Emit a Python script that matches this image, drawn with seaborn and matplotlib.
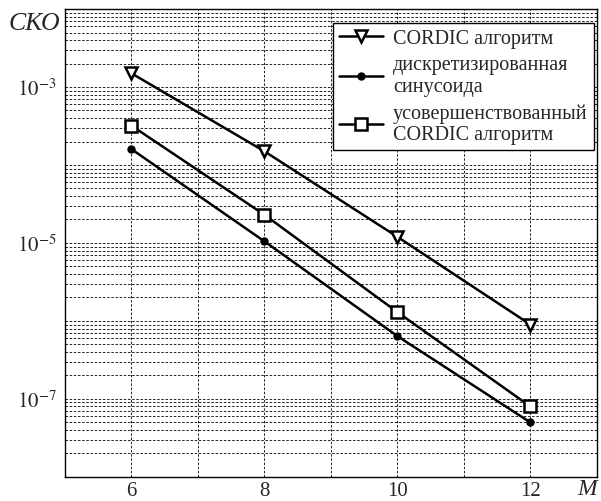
import matplotlib
matplotlib.use("Agg")
import matplotlib.pyplot as plt
import matplotlib.ticker as mticker
import seaborn as sns
import numpy as np

# data
m_values = [6, 8, 10, 12]
cordic = [1.5e-3, 1.5e-4, 1.2e-5, 9.0e-7]
sampled_sine = [1.6e-4, 1.05e-5, 6.4e-7, 5.0e-8]
improved_cordic = [3.2e-4, 2.3e-5, 1.3e-6, 8.0e-8]

series_labels = ["CORDIC алгоритм",
                 "дискретизированная\nсинусоида",
                 "усовершенствованный\nCORDIC алгоритм"]

sns.set_style("white")
plt.rcParams['font.family'] = ['Liberation Serif', 'DejaVu Serif']
plt.rcParams['mathtext.fontset'] = 'stix'

fig = plt.figure(figsize=(6.01, 5.02), dpi=100)
ax = fig.add_axes([0.108, 0.048, 0.885, 0.932])

styles = [
    dict(marker='v', markersize=9, markerfacecolor='white', markeredgewidth=1.8),
    dict(marker='o', markersize=5, markerfacecolor='black', markeredgewidth=1),
    dict(marker='s', markersize=8, markerfacecolor='white', markeredgewidth=1.8),
]
for vals, lab, st in zip([cordic, sampled_sine, improved_cordic], series_labels, styles):
    sns.lineplot(x=m_values, y=vals, ax=ax, color='black', linewidth=1.8,
                 markeredgecolor='black', label=lab, **st)

ax.set_yscale('log')
ax.set_xlim(5, 13)
ax.set_ylim(1e-8, 1e-2)

# x ticks every 1, labels only on even values
ax.set_xticks(np.arange(5, 14, 1))
ax.set_xticklabels(['' if t % 2 else str(t) for t in range(5, 14)])

# y decades, label every other one
ax.yaxis.set_major_locator(mticker.LogLocator(base=10, numticks=20))
ax.yaxis.set_minor_locator(mticker.LogLocator(base=10, subs=np.arange(2, 10), numticks=20))
ax.yaxis.set_minor_formatter(mticker.NullFormatter())

def ylab(v, pos):
    e = int(round(np.log10(v)))
    return r'$10^{%d}$' % e if e in (-3, -5, -7) else ''

ax.yaxis.set_major_formatter(mticker.FuncFormatter(ylab))

ax.grid(True, which='both', color='black', linestyle=(0, (3, 2)), linewidth=0.6)
ax.tick_params(axis='both', which='major', direction='in', length=5, labelsize=15,
               color='black')
ax.tick_params(axis='x', which='major', pad=3)
ax.tick_params(axis='y', which='major', pad=6)
ax.tick_params(axis='y', which='minor', direction='in', length=3)
for sp in ax.spines.values():
    sp.set_color('black')
    sp.set_linewidth(1)

ax.set_xlabel('')
ax.set_ylabel('')
fig.text(0.015, 0.952, 'СКО', fontsize=18.5, style='italic', ha='left', va='center')
fig.text(0.977, 0.024, 'M', fontsize=17, style='italic', ha='center', va='center')

leg = ax.legend(loc='upper right', bbox_to_anchor=(0.994, 0.970), fontsize=14.5,
                frameon=True, fancybox=False, edgecolor='black', framealpha=1,
                borderaxespad=0, handlelength=2.2, labelspacing=0.35, borderpad=0.3,
                handletextpad=0.5)
leg.get_frame().set_linewidth(1)

plt.savefig('out.png', dpi=100)
plt.close()
